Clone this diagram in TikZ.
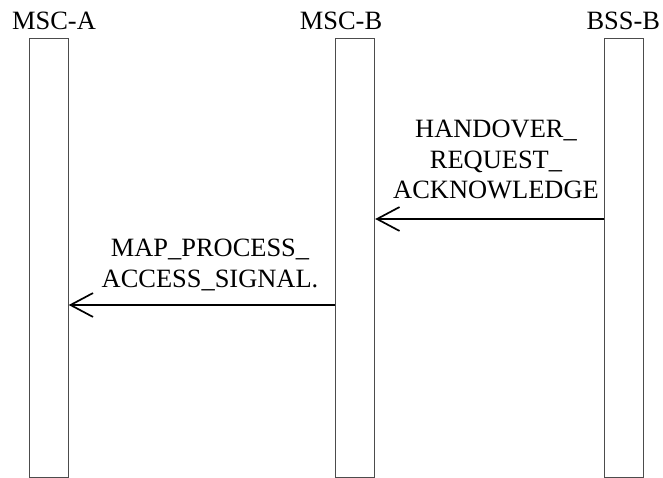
\documentclass[tikz,border=0pt]{standalone}
\usepackage{fontspec}
\setmainfont{Liberation Serif}
\usetikzlibrary{arrows.meta}

\begin{document}
\begin{tikzpicture}[x=0.025cm,y=-0.025cm,
	font=\fontsize{18.8pt}{21.7pt}\selectfont,
	lifeline/.style={draw=black!70,line width=0.6pt,minimum width=0.975cm,minimum height=10.975cm,anchor=north,inner sep=0pt},
	msg/.style={line width=1.2pt,-{Straight Barb[length=16pt,width=17pt,line width=1.2pt]}},
	lbl/.style={anchor=base,inner sep=0pt,align=center},
	msglbl/.style={anchor=south,inner sep=0pt,align=center}]
	\useasboundingbox (0,0) rectangle (663,478);
	\node[lifeline] (mscA) at (48.8,38) {};
	\node[lifeline] (mscB) at (355.3,38) {};
	\node[lifeline] (bssB) at (624.2,38) {};
	\node[lbl] (tA) at (54,29.3) {MSC-A};
	\node[lbl] (tB) at (341,29.3) {MSC-B};
	\node[lbl] (tC) at (623.3,29.3) {BSS-B};
	\node[msglbl] (hoack) at (496,199.3) {HANDOVER\_\\REQUEST\_\\ACKNOWLEDGE};
	\node[msglbl] (mapacc) at (210,291) {MAP\_PROCESS\_\\ACCESS\_SIGNAL.};
	\draw[msg] (bssB.west |- 0,219) -- (mscB.east |- 0,219);
	\draw[msg] (mscB.west |- 0,305) -- (mscA.east |- 0,305);
\end{tikzpicture}
\end{document}
